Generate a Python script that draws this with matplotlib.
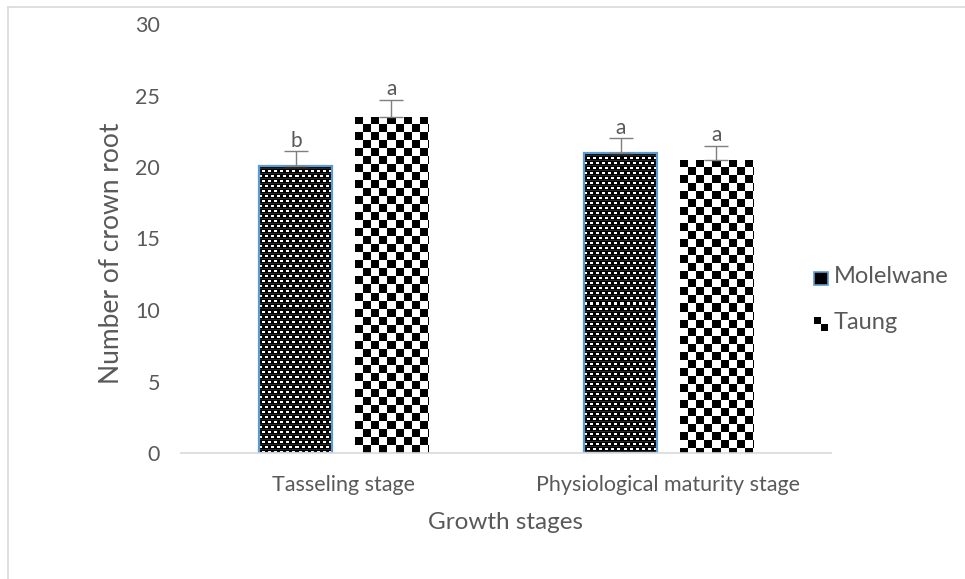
import numpy as np
import matplotlib
matplotlib.use("Agg")
import matplotlib.pyplot as plt
from matplotlib.patches import Rectangle
from matplotlib.lines import Line2D

# data
stages = ["Tasseling stage", "Physiological maturity stage"]
series = ["Molelwane", "Taung"]
molelwane = [20.1, 21.0]
taung = [23.5, 20.5]
molelwane_err = [1.0, 1.0]
taung_err = [1.2, 1.0]
molelwane_letters = ["b", "a"]
taung_letters = ["a", "a"]
yticks = [0, 5, 10, 15, 20, 25, 30]

txt = "#595959"
plt.rcParams["font.family"] = ["Lato", "DejaVu Sans"]

fig = plt.figure(figsize=(9.65, 5.79), dpi=100)
ax = fig.add_axes([181 / 965, 1 - 453 / 579, 650 / 965, (453 - 24) / 579])

# light grey chart border (top and left)
fig.add_artist(Line2D([8 / 965, 8 / 965], [0, 1 - 7 / 579], transform=fig.transFigure,
                      color="#d9d9d9", lw=1.2))
fig.add_artist(Line2D([8 / 965, 1], [1 - 7 / 579, 1 - 7 / 579], transform=fig.transFigure,
                      color="#d9d9d9", lw=1.2))

x = np.arange(len(stages))
w = 0.225
gap = 0.068
off = (w + gap) / 2


def dots_pattern(h, wd):
    img = np.zeros((h, wd))
    for r in range(h):
        k = r % 10
        if k in (0, 1):
            for c in range(wd):
                if (c % 6) < 3:
                    img[r, c] = 1
        elif k in (5, 6):
            for c in range(wd):
                if ((c + 3) % 6) < 3:
                    img[r, c] = 1
        elif k in (3, 8):
            img[r, :] = 0.15
    return img


def checker_pattern(h, wd, s=8):
    rr, cc = np.mgrid[0:h, 0:wd]
    return (((rr // s) + (cc // s)) % 2).astype(float)


def fill_bar(bar, maker):
    fig.canvas.draw()
    x0 = bar.get_x()
    x1 = x0 + bar.get_width()
    p0 = ax.transData.transform((x0, 0))
    p1 = ax.transData.transform((x1, bar.get_height()))
    wd = max(int(round(p1[0] - p0[0])), 1)
    h = max(int(round(p1[1] - p0[1])), 1)
    img = maker(h, wd)
    im = ax.imshow(img, cmap="gray", vmin=0, vmax=1, interpolation="none",
                   extent=(x0, x1, 0, bar.get_height()), origin="upper",
                   aspect="auto", zorder=1)
    im.set_clip_path(bar)


bars_m = ax.bar(x - off, molelwane, w, color="none", edgecolor="#5b9bd5", lw=1.6,
                zorder=2, label=series[0])
bars_t = ax.bar(x + off, taung, w, color="none", edgecolor="none", zorder=2,
                label=series[1])

ax.set_xlim(-0.5, 1.5)
ax.set_ylim(0, 30)

for b in bars_m:
    fill_bar(b, dots_pattern)
for b in bars_t:
    fill_bar(b, checker_pattern)

ax.errorbar(x - off, molelwane, yerr=[[0, 0], molelwane_err], fmt="none",
            ecolor="#7f7f7f", elinewidth=1, capsize=8.5, capthick=1, zorder=3)
ax.errorbar(x + off, taung, yerr=[[0, 0], taung_err], fmt="none",
            ecolor="#7f7f7f", elinewidth=1, capsize=8.5, capthick=1, zorder=3)

for i in range(len(stages)):
    ax.text(x[i] - off, molelwane[i] + molelwane_err[i] + 0.05, molelwane_letters[i],
            ha="center", va="bottom", fontsize=15, color=txt)
    ax.text(x[i] + off, taung[i] + taung_err[i] + 0.05, taung_letters[i],
            ha="center", va="bottom", fontsize=15, color=txt)

ax.set_xticks(x)
ax.set_xticklabels(stages, fontsize=15.5, color=txt)
ax.set_yticks(yticks)
ax.set_yticklabels([str(v) for v in yticks], fontsize=15.5, color=txt)
ax.tick_params(axis="x", length=0, pad=16)
ax.tick_params(axis="y", length=0, pad=15)
for s in ["top", "right", "left"]:
    ax.spines[s].set_visible(False)
ax.spines["bottom"].set_color("#d9d9d9")
ax.spines["bottom"].set_linewidth(1.2)

ax.set_xlabel("Growth stages", fontsize=17.5, color=txt, labelpad=12)
ax.set_ylabel("Number of crown root", fontsize=19, color=txt)
ax.yaxis.set_label_coords(-0.088, 0.465)


class CheckerHandler:
    def legend_artist(self, legend, orig, fontsize, handlebox):
        x0, y0 = handlebox.xdescent, handlebox.ydescent
        s = handlebox.height / 2
        hx = x0 + handlebox.width - 2 * s
        a1 = Rectangle((hx, y0 + s), s, s, facecolor="black", transform=handlebox.get_transform())
        a2 = Rectangle((hx + s, y0), s, s, facecolor="black", transform=handlebox.get_transform())
        handlebox.add_artist(a1)
        handlebox.add_artist(a2)
        return a1


class DotsHandler:
    def legend_artist(self, legend, orig, fontsize, handlebox):
        x0, y0 = handlebox.xdescent, handlebox.ydescent
        s = handlebox.height
        hx = x0 + handlebox.width - s
        r = Rectangle((hx, y0), s, s, facecolor="black", edgecolor="#5b9bd5", lw=1.2,
                      transform=handlebox.get_transform())
        handlebox.add_artist(r)
        return r


leg = ax.legend([bars_m, bars_t], series, loc="center left", bbox_to_anchor=(0.944, 0.357),
                frameon=False, fontsize=17, handlelength=0.5, handleheight=0.5,
                handletextpad=0.25, labelspacing=1.05,
                handler_map={bars_m: DotsHandler(), bars_t: CheckerHandler()})
for t in leg.get_texts():
    t.set_color(txt)

fig.savefig("out.png", dpi=100)
